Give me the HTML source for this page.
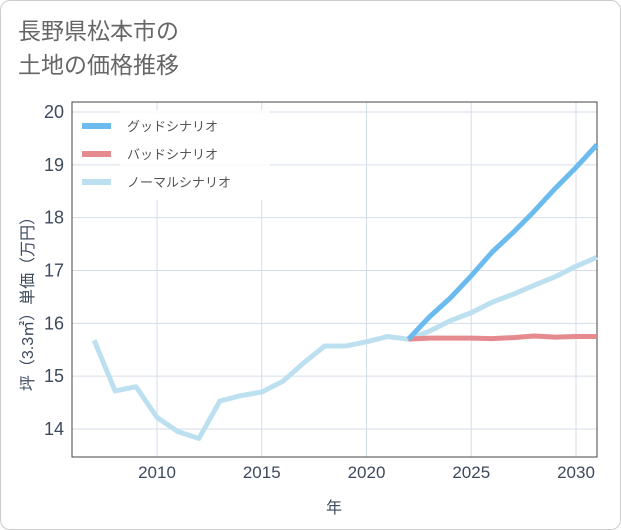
<!DOCTYPE html>
<html><head><meta charset="utf-8"><style>
body{margin:0;background:#fff;}
.wrap{position:relative;width:621px;height:530px;font-family:"Liberation Sans","Noto Sans CJK JP",sans-serif;}
.card{position:absolute;left:0;top:0;width:619px;height:528px;border:1px solid #ccc;border-radius:10px;}
.title{position:absolute;left:18px;top:14px;font-size:23px;line-height:34px;color:#666;}
</style></head><body>
<div class="wrap">
<div class="card"></div>
<div class="title">長野県松本市の<br>土地の価格推移</div>
<svg id="chart" width="621" height="530" style="position:absolute;left:0;top:0"></svg>
</div>
<script>
const years=[2007,2008,2009,2010,2011,2012,2013,2014,2015,2016,2017,2018,2019,2020,2021,2022,2023,2024,2025,2026,2027,2028,2029,2030,2031];
const normal=[15.68,14.72,14.8,14.22,13.95,13.82,14.53,14.63,14.7,14.9,15.25,15.57,15.57,15.65,15.75,15.7,15.85,16.05,16.2,16.4,16.55,16.72,16.88,17.08,17.25];
const goodYears=[2022,2023,2024,2025,2026,2027,2028,2029,2030,2031];
const good=[15.7,16.12,16.48,16.9,17.35,17.72,18.12,18.55,18.95,19.38];
const bad=[15.7,15.72,15.72,15.72,15.71,15.73,15.76,15.74,15.75,15.75];
const xTicks=[2010,2015,2020,2025,2030];
const yTicks=[14,15,16,17,18,19,20];
const legendLabels=["グッドシナリオ","バッドシナリオ","ノーマルシナリオ"];
const colors=["#6bbbef","#e58a8f","#bde0f0"];
const svg=document.getElementById('chart');
const NS='http://www.w3.org/2000/svg';
const L=72,R=597,T=102,B=457;
const xs=y=>157+(y-2010)*(576-157)/20;
const ys=v=>112+(20-v)*(429-112)/6;
function mk(t,a){const e=document.createElementNS(NS,t);for(const k in a)e.setAttribute(k,a[k]);svg.appendChild(e);return e;}
for(const t of xTicks){const g=mk('line',{x1:xs(t),x2:xs(t),y1:T,y2:B,stroke:'#d5dee8'});


const tx=mk('text',{x:xs(t),y:478,'text-anchor':'middle','font-size':17,fill:'#3d4a5c'});tx.textContent=t;

}
const lg=mk('rect',{x:120,y:110,width:150,height:90,fill:'#fff','fill-opacity':0.7});


for(const t of yTicks){const g=mk('line',{x1:L,x2:R,y1:ys(t),y2:ys(t),stroke:'#d5dee8'});


const tx=mk('text',{x:64,y:ys(t)+6,'text-anchor':'end','font-size':18,fill:'#3d4a5c'});tx.textContent=t;

}
const lg2=mk('rect',{x:120,y:110,width:150,height:90,fill:'#fff','fill-opacity':0.8});


const ax=mk('rect',{x:L,y:T,width:R-L,height:B-T,fill:'none',stroke:'#444','stroke-width':1});


function line(xv,yv,c,name){const p=mk('polyline',{points:xv.map((x,i)=>xs(x)+','+ys(yv[i])).join(' '),fill:'none',stroke:c,'stroke-width':5,'stroke-linejoin':'round'});

}
line(years,normal,colors[2],'normal-scenario-line');
line(goodYears,bad,colors[1],'bad-scenario-line');
line(goodYears,good,colors[0],'good-scenario-line');
legendLabels.forEach((lab,i)=>{const y=126+i*28;
const s=mk('line',{x1:82,x2:111,y1:y,y2:y,stroke:colors[i],'stroke-width':6});


const t=mk('text',{x:127,y:y+5,'font-size':13,fill:'#555'});t.textContent=lab;

});
const xt=mk('text',{x:334,y:513,'text-anchor':'middle','font-size':16,fill:'#3d4a5c'});xt.textContent='年';


const yt=mk('text',{x:0,y:0,'text-anchor':'middle','font-size':16,fill:'#3d4a5c',transform:'translate(33,300) rotate(-90)'});yt.textContent='坪（3.3㎡）単価（万円）';


</script>
</body></html>
